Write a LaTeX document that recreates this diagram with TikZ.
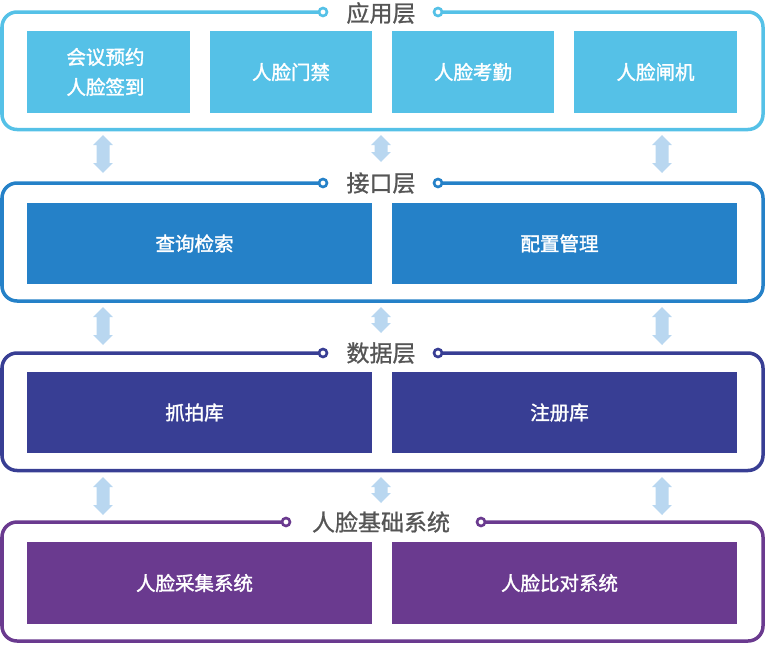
\documentclass[tikz,border=0pt]{standalone}
\usepackage{fontspec}
\setmainfont{Noto Sans CJK SC}
\newfontfamily\medfont[RawFeature={embolden=1.6}]{Noto Sans CJK SC}
\newfontfamily\ttlfont[RawFeature={embolden=1.0}]{Noto Sans CJK SC}
\definecolor{cA}{HTML}{55C1E7}
\definecolor{cB}{HTML}{2581C8}
\definecolor{cC}{HTML}{383E94}
\definecolor{cD}{HTML}{6A3A8F}
\definecolor{arr}{HTML}{B9D7F0}
\definecolor{ttl}{HTML}{555555}
\newcommand{\dbarr}[3]{%
  \fill[arr] (#1,#2) -- ++(9.8,10) -- ++(-3.3,0) |- (#1+9.8,#3-10) -- (#1,#3) -- (#1-9.8,#3-10) -- ++(3.3,0) |- (#1-9.8,#2+10) -- cycle;}
\begin{document}
\begin{tikzpicture}[x=1pt,y=-1pt,
  frame/.style={draw=#1, line width=3.5pt, rounded corners=15pt},
  box/.style={fill=#1, text=white, inner sep=0pt, font=\medfont\fontsize{19.5}{30}\selectfont, align=center},
  wide/.style={box=#1, minimum width=345pt, execute at begin node={\hspace*{-10pt}}},
  ttlnode/.style={text=ttl, font=\ttlfont\fontsize{23}{26}\selectfont, inner sep=0pt},
  ring/.style={circle, fill=white, draw=#1, line width=2.6pt, minimum size=8pt, inner sep=0pt}]
\useasboundingbox (0,0) rectangle (765,645);
% frames
\draw[frame=cA] (2,12) rectangle (763,129.5);
\draw[frame=cB] (2,183) rectangle (763,301);
\draw[frame=cC] (2,353) rectangle (763,470.5);
\draw[frame=cD] (2,522) rectangle (763,641);
% title gaps
\fill[white] (324,6) rectangle (437,18);
\fill[white] (324,177) rectangle (437,189);
\fill[white] (324,347) rectangle (437,359);
\fill[white] (287,516) rectangle (480,528);
\node[ring=cA] (rA1) at (323,12) {};
\node[ring=cA] (rA2) at (438,12) {};
\node[ring=cB] (rB1) at (323,183) {};
\node[ring=cB] (rB2) at (438,183) {};
\node[ring=cC] (rC1) at (323,353) {};
\node[ring=cC] (rC2) at (438,353) {};
\node[ring=cD] (rD1) at (286,522) {};
\node[ring=cD] (rD2) at (481,522) {};
\node[ttlnode] (tA) at (381,13) {应用层};
\node[ttlnode] (tB) at (381,183) {接口层};
\node[ttlnode] (tC) at (381,353) {数据层};
\node[ttlnode] (tD) at (381,522) {人脸基础系统};
% layer 1 boxes
\node[box=cA, minimum width=163pt, minimum height=82pt, execute at begin node={\hspace*{-6pt}}] (a1) at (108.5,72) {会议预约\\人脸签到};
\node[box=cA, minimum width=162pt, minimum height=82pt] (a2) at (291,72) {人脸门禁};
\node[box=cA, minimum width=162pt, minimum height=82pt] (a3) at (473,72) {人脸考勤};
\node[box=cA, minimum width=163pt, minimum height=82pt] (a4) at (655.5,72) {人脸闸机};
% layer 2
\node[wide=cB, minimum height=81pt] (b1) at (199.5,243.5) {查询检索};
\node[wide=cB, minimum height=81pt] (b2) at (564.5,243.5) {配置管理};
% layer 3
\node[wide=cC, minimum height=81pt] (c1) at (199.5,412.5) {抓拍库};
\node[wide=cC, minimum height=81pt] (c2) at (564.5,412.5) {注册库};
% layer 4
\node[wide=cD, minimum height=82pt] (d1) at (199.5,583) {人脸采集系统};
\node[wide=cD, minimum height=82pt] (d2) at (564.5,583) {人脸比对系统};
% arrows
\dbarr{103}{135}{173}
\dbarr{381}{135}{162}
\dbarr{662}{135}{173}
\dbarr{103}{307}{345}
\dbarr{381}{307}{333}
\dbarr{662}{307}{345}
\dbarr{103}{477}{515}
\dbarr{381}{477}{503}
\dbarr{662}{477}{515}
\end{tikzpicture}
\end{document}
